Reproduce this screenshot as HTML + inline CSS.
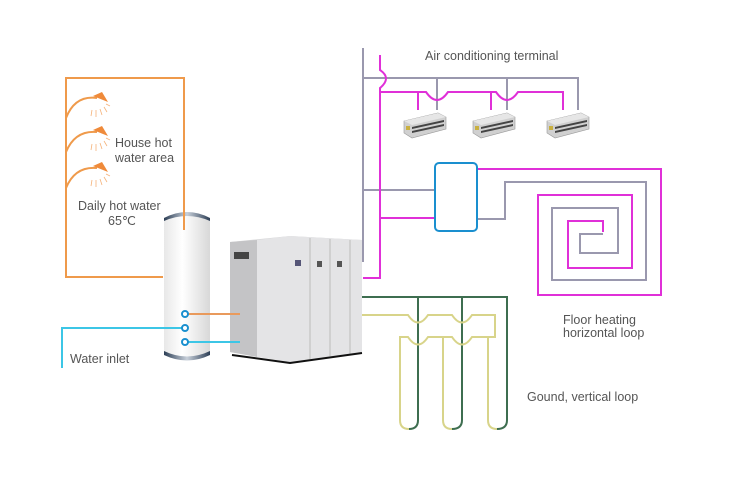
<!DOCTYPE html>
<html><head><meta charset="utf-8"><style>
html,body{margin:0;padding:0;background:#fff;}
svg{display:block;}
text{font-family:"Liberation Sans",sans-serif;font-size:12.5px;fill:#555;}
</style></head><body>
<svg width="750" height="482" viewBox="0 0 750 482" xmlns="http://www.w3.org/2000/svg">
<defs>
<linearGradient id="tank" x1="0" x2="1"><stop offset="0" stop-color="#e8e8e8"/><stop offset="0.4" stop-color="#fff"/><stop offset="1" stop-color="#d8d8d8"/></linearGradient>
<linearGradient id="cap" x1="0" x2="1"><stop offset="0" stop-color="#2c3e55"/><stop offset="0.5" stop-color="#c8d0da"/><stop offset="1" stop-color="#2c3e55"/></linearGradient>
<g id="ac">
<polygon points="0,8 34,0 42,4 42,16 8,25 0,20" fill="#d0d0d0" stroke="#999" stroke-width="0.6"/>
<polygon points="0,8 34,0 42,4 8,12" fill="#e6e6e6"/>
<polygon points="8,14 40,7 40,9 8,16" fill="#444"/>
<polygon points="8,18 40,11 40,13 8,20" fill="#444"/>
<rect x="2" y="13" width="4" height="4" fill="#c9b040"/>
</g>
</defs>
<!-- tank -->
<path d="M164,218 Q187,206 210,218 L210,355 Q187,365 164,355 Z" fill="url(#tank)"/>
<path d="M164,218 Q187,206 210,218 L210,221 Q187,211 164,221 Z" fill="url(#cap)"/>
<path d="M164,351 Q187,362 210,351 L210,355 Q187,366 164,355 Z" fill="url(#cap)"/>
<!-- orange hot water loop -->
<polyline points="163,277 66,277 66,78 184,78 184,230" fill="none" stroke="#ef9a4b" stroke-width="2"/>
<!-- showers -->
<g fill="none" stroke="#ef9a4b" stroke-width="2">
<path d="M66,118 Q75,95 97,98"/><path d="M66,152 Q75,130 97,132"/><path d="M66,188 Q75,166 97,168"/>
</g>
<g fill="#ef8a3a">
<path d="M93,96 l9,-4 l6,10 z"/><path d="M93,130 l9,-4 l6,10 z"/><path d="M93,166 l9,-4 l6,10 z"/>
</g>
<g stroke="#f5b27a" stroke-width="0.8">
<path d="M92,110 l-1,6 M96,110 l0,7 M100,109 l2,6 M104,107 l3,5 M106,104 l4,2"/>
<path d="M92,144 l-1,6 M96,144 l0,7 M100,143 l2,6 M104,141 l3,5 M106,138 l4,2"/>
<path d="M92,180 l-1,6 M96,180 l0,7 M100,179 l2,6 M104,177 l3,5 M106,174 l4,2"/>
</g>
<text x="115" y="147">House hot</text>
<text x="115" y="162">water area</text>
<text x="78" y="210">Daily hot water</text>
<text x="108" y="225">65℃</text>
<!-- unit -->
<polygon points="230,242 290,236 362,240 362,352 290,362 230,352" fill="#d6d6d8"/>
<polygon points="257,240 290,236 362,240 362,352 290,362 257,357" fill="#e4e4e6"/>
<polygon points="230,242 257,240 257,357 230,352" fill="#c4c4c6"/>
<line x1="310" y1="238" x2="310" y2="359" stroke="#bbb"/>
<line x1="330" y1="239" x2="330" y2="356" stroke="#bbb"/>
<line x1="350" y1="240" x2="350" y2="354" stroke="#bbb"/>
<path d="M232,355 L290,363 L362,353" fill="none" stroke="#111" stroke-width="2"/>
<rect x="234" y="252" width="15" height="7" fill="#444"/>
<rect x="295" y="260" width="6" height="6" fill="#557"/><rect x="317" y="261" width="5" height="6" fill="#555"/><rect x="337" y="261" width="5" height="6" fill="#555"/>
<!-- water inlet -->
<polyline points="62,368 62,328 182,328" fill="none" stroke="#3cc6e6" stroke-width="2"/>
<line x1="188" y1="314" x2="240" y2="314" stroke="#e99a5c" stroke-width="2"/>
<line x1="188" y1="342" x2="240" y2="342" stroke="#3cc6e6" stroke-width="2"/>
<g fill="#fff" stroke="#1a8fcf" stroke-width="2"><circle cx="185" cy="314" r="3"/><circle cx="185" cy="328" r="3"/><circle cx="185" cy="342" r="3"/></g>
<text x="70" y="363">Water inlet</text>
<!-- AC gray -->
<g fill="none" stroke="#9a98ae" stroke-width="2">
<line x1="363" y1="48" x2="363" y2="262"/>
<polyline points="363,78 578,78 578,110"/>
<line x1="437" y1="78" x2="437" y2="110"/>
<line x1="507" y1="78" x2="507" y2="110"/>
<line x1="363" y1="190" x2="435" y2="190"/>
<polyline points="478,219 505,219 505,182 646,182 646,280 552,280 552,208 618,208 618,253 580,253 580,234 603,234"/>
</g>
<!-- magenta -->
<g fill="none" stroke="#e030d8" stroke-width="2">
<path d="M380,55 L380,70 Q392,78 380,88 L380,278 L363,278"/>
<path d="M380,92 L418,92 L418,110 M418,92 L426,92 Q437,108 448,92 L491,92 L491,110 M491,92 L496,92 Q507,108 518,92 L563,92 L563,110"/>
<line x1="380" y1="218" x2="435" y2="218"/>
<polyline points="478,169 661,169 661,295 538,295 538,195 632,195 632,268 568,268 568,221 603,221 603,232"/>
</g>
<rect x="435" y="163" width="42" height="68" rx="4" fill="#fff" stroke="#1a8fcf" stroke-width="2"/>
<use href="#ac" x="404" y="113"/><use href="#ac" x="473" y="113"/><use href="#ac" x="547" y="113"/>
<text x="425" y="60">Air conditioning terminal</text>
<text x="563" y="324">Floor heating</text>
<text x="563" y="337">horizontal loop</text>
<!-- ground -->
<g fill="none" stroke="#3e6e50" stroke-width="2">
<polyline points="362,297 507,297 507,420"/>
<line x1="418" y1="297" x2="418" y2="420"/>
<line x1="462" y1="297" x2="462" y2="420"/>
</g>
<g fill="none" stroke="#d8d48a" stroke-width="2">
<path d="M362,315 L408,315 Q418,330 428,315 L452,315 Q462,330 472,315 L495,315 L495,337 L472,337 Q462,352 452,337 L428,337 Q418,352 408,337 L400,337 L400,420"/>
<line x1="443" y1="337" x2="443" y2="420"/>
<line x1="488" y1="337" x2="488" y2="420"/>
</g>
<g fill="none" stroke-width="2">
<path d="M400,420 Q400,429 409,429" stroke="#d8d48a"/><path d="M409,429 Q418,429 418,420" stroke="#3e6e50"/>
<path d="M443,420 Q443,429 452,429" stroke="#d8d48a"/><path d="M452,429 Q462,429 462,420" stroke="#3e6e50"/>
<path d="M488,420 Q488,429 497,429" stroke="#d8d48a"/><path d="M497,429 Q507,429 507,420" stroke="#3e6e50"/>
</g>
<text x="527" y="401">Gound, vertical loop</text>
</svg>
</body></html>
